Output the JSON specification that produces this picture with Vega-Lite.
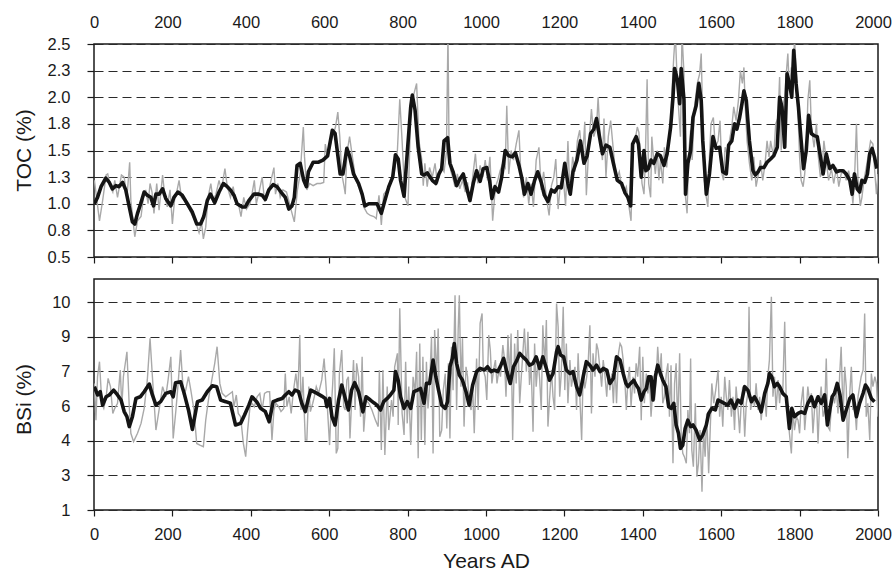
{
  "$schema": "https://vega.github.io/schema/vega-lite/v6.json",
  "background": "white",
  "padding": {"top": 13, "left": 12, "right": 0, "bottom": 0},
  "spacing": 11,
  "config": {
    "font": "Liberation Sans",
    "view": {"stroke": "#1a1a1a", "strokeWidth": 1.5},
    "axis": {
      "labelFont": "Liberation Sans", "labelFontSize": 16.5, "labelColor": "#1a1a1a",
      "titleFont": "Liberation Sans", "titleFontSize": 21, "titleFontWeight": "normal", "titleColor": "#1a1a1a",
      "tickColor": "#1a1a1a", "tickWidth": 1.2, "domain": false, "labelOverlap": false
    },
    "axisX": {"grid": false, "tickSize": 6, "labelFlush": false, "format": "d",
      "labelOffset": {"condition": {"test": "datum.value > 0", "value": -5}, "value": 0}},
    "axisY": {"grid": true, "gridColor": "#2a2a2a", "gridDash": [9, 5], "gridWidth": 1, "tickSize": 7, "labelPadding": 17,
      "titleAngle": 270, "titleBaseline": "middle", "titleAlign": "center", "titleX": -70}
  },
  "datasets": {
    "tocRaw": [
      {"year":1,"v":1.22},{"year":14,"v":0.84},{"year":22,"v":1.03},{"year":31,"v":1.27},{"year":35,"v":1.28},{"year":42,"v":1.16},{"year":48,"v":1.11},{"year":53,"v":1.22},{"year":60,"v":1.06},{"year":70,"v":1.27},{"year":77,"v":1.25},{"year":84,"v":1.06},{"year":91,"v":1.39},{"year":94,"v":1.03},{"year":104,"v":0.69},{"year":111,"v":0.84},{"year":120,"v":0.88},{"year":126,"v":1.06},{"year":132,"v":1.13},{"year":138,"v":1.0},{"year":143,"v":1.19},{"year":148,"v":1.11},{"year":153,"v":0.91},{"year":160,"v":1.19},{"year":166,"v":0.94},{"year":175,"v":1.27},{"year":181,"v":1.06},{"year":187,"v":0.97},{"year":194,"v":1.13},{"year":200,"v":0.81},{"year":206,"v":1.06},{"year":211,"v":1.11},{"year":217,"v":1.22},{"year":223,"v":1.06},{"year":231,"v":1.03},{"year":240,"v":0.97},{"year":248,"v":0.91},{"year":259,"v":0.83},{"year":268,"v":0.73},{"year":274,"v":0.83},{"year":279,"v":0.67},{"year":285,"v":0.78},{"year":291,"v":1.06},{"year":298,"v":1.19},{"year":304,"v":1.03},{"year":311,"v":1.09},{"year":319,"v":1.22},{"year":325,"v":1.13},{"year":334,"v":1.33},{"year":340,"v":1.16},{"year":348,"v":1.06},{"year":355,"v":1.16},{"year":361,"v":1.03},{"year":370,"v":0.97},{"year":375,"v":0.88},{"year":382,"v":1.06},{"year":389,"v":0.95},{"year":398,"v":1.0},{"year":403,"v":1.09},{"year":409,"v":1.22},{"year":414,"v":1.0},{"year":420,"v":1.09},{"year":429,"v":1.25},{"year":435,"v":1.03},{"year":442,"v":1.06},{"year":448,"v":1.16},{"year":459,"v":1.34},{"year":463,"v":1.09},{"year":469,"v":1.19},{"year":475,"v":1.06},{"year":482,"v":1.13},{"year":491,"v":1.11},{"year":497,"v":1.03},{"year":503,"v":0.94},{"year":511,"v":0.83},{"year":519,"v":1.13},{"year":526,"v":1.28},{"year":534,"v":1.72},{"year":537,"v":1.44},{"year":543,"v":1.13},{"year":550,"v":1.19},{"year":559,"v":1.17},{"year":569,"v":1.19},{"year":578,"v":1.19},{"year":586,"v":1.2},{"year":590,"v":1.56},{"year":596,"v":1.44},{"year":605,"v":1.59},{"year":616,"v":1.72},{"year":622,"v":1.86},{"year":627,"v":1.63},{"year":632,"v":1.28},{"year":638,"v":1.16},{"year":641,"v":1.09},{"year":645,"v":1.47},{"year":652,"v":1.63},{"year":658,"v":1.47},{"year":668,"v":1.22},{"year":675,"v":1.16},
      {"year":680,"v":1.14},{"year":688,"v":0.97},{"year":697,"v":0.91},{"year":705,"v":0.89},{"year":714,"v":0.88},{"year":720,"v":0.86},{"year":727,"v":1.08},{"year":733,"v":0.8},{"year":739,"v":1.09},{"year":748,"v":1.13},{"year":756,"v":1.22},{"year":765,"v":1.27},{"year":774,"v":1.5},{"year":780,"v":1.98},{"year":786,"v":1.59},{"year":793,"v":1.06},{"year":801,"v":0.98},{"year":808,"v":1.84},{"year":816,"v":2.03},{"year":823,"v":2.13},{"year":829,"v":1.59},{"year":836,"v":1.42},{"year":840,"v":1.17},{"year":844,"v":1.38},{"year":850,"v":1.16},{"year":856,"v":1.34},{"year":863,"v":1.25},{"year":870,"v":1.38},{"year":876,"v":1.19},{"year":882,"v":1.3},{"year":887,"v":1.34},{"year":893,"v":1.3},{"year":899,"v":1.48},{"year":903,"v":2.6},{"year":906,"v":1.44},{"year":910,"v":1.31},{"year":915,"v":1.25},{"year":921,"v":1.16},{"year":927,"v":1.28},{"year":933,"v":1.14},{"year":940,"v":1.22},{"year":947,"v":1.11},{"year":953,"v":1.2},{"year":959,"v":1.02},{"year":966,"v":1.25},{"year":973,"v":1.47},{"year":979,"v":1.19},{"year":985,"v":1.36},{"year":992,"v":1.25},{"year":998,"v":1.41},{"year":1004,"v":1.22},{"year":1010,"v":1.44},{"year":1017,"v":0.84},{"year":1024,"v":1.16},{"year":1030,"v":1.22},{"year":1036,"v":1.31},{"year":1043,"v":1.38},{"year":1049,"v":1.34},{"year":1053,"v":1.92},{"year":1058,"v":1.28},{"year":1064,"v":1.5},{"year":1070,"v":1.41},{"year":1077,"v":1.56},{"year":1084,"v":1.69},{"year":1090,"v":1.19},{"year":1096,"v":1.06},{"year":1103,"v":1.25},{"year":1109,"v":1.0},{"year":1115,"v":1.19},{"year":1121,"v":0.97},{"year":1128,"v":1.41},{"year":1135,"v":1.53},{"year":1141,"v":1.13},{"year":1147,"v":1.3},{"year":1154,"v":1.06},{"year":1161,"v":0.89},{"year":1167,"v":1.17},{"year":1173,"v":1.25},{"year":1178,"v":1.42},{"year":1184,"v":0.95},{"year":1190,"v":1.19},{"year":1197,"v":1.25},{"year":1203,"v":0.98},{"year":1209,"v":1.59},{"year":1214,"v":1.09},{"year":1221,"v":1.44},{"year":1227,"v":1.3},{"year":1233,"v":1.59},{"year":1239,"v":1.69},{"year":1246,"v":1.41},{"year":1252,"v":1.77},{"year":1256,"v":1.08},{"year":1263,"v":1.59},{"year":1269,"v":1.89},{"year":1275,"v":1.63},{"year":1282,"v":1.72},{"year":1286,"v":2.0},{"year":1291,"v":1.63},{"year":1297,"v":1.41},{"year":1301,"v":1.8},{"year":1306,"v":1.25},{"year":1312,"v":1.63},{"year":1318,"v":1.78},{"year":1325,"v":1.5},{"year":1332,"v":1.22},{"year":1340,"v":1.3},{"year":1346,"v":1.16},{"year":1352,"v":1.11},
      {"year":1358,"v":1.16},{"year":1363,"v":1.02},{"year":1370,"v":0.84},{"year":1375,"v":1.56},{"year":1380,"v":1.59},{"year":1386,"v":1.72},{"year":1390,"v":1.67},{"year":1394,"v":1.41},{"year":1398,"v":1.19},{"year":1403,"v":1.09},{"year":1406,"v":1.34},{"year":1411,"v":2.17},{"year":1415,"v":1.19},{"year":1420,"v":1.06},{"year":1423,"v":1.63},{"year":1427,"v":1.44},{"year":1432,"v":1.28},{"year":1437,"v":1.5},{"year":1441,"v":1.22},{"year":1445,"v":1.41},{"year":1451,"v":1.19},{"year":1455,"v":1.53},{"year":1461,"v":1.34},{"year":1466,"v":1.59},{"year":1471,"v":1.75},{"year":1475,"v":2.09},{"year":1479,"v":2.38},{"year":1483,"v":2.6},{"year":1488,"v":2.13},{"year":1491,"v":1.91},{"year":1496,"v":1.63},{"year":1500,"v":2.6},{"year":1505,"v":2.22},{"year":1509,"v":1.06},{"year":1513,"v":0.91},{"year":1517,"v":1.47},{"year":1522,"v":1.69},{"year":1526,"v":1.41},{"year":1532,"v":1.91},{"year":1539,"v":2.13},{"year":1545,"v":2.22},{"year":1549,"v":2.41},{"year":1553,"v":1.78},{"year":1557,"v":1.22},{"year":1562,"v":1.06},{"year":1566,"v":0.97},{"year":1570,"v":1.44},{"year":1574,"v":1.75},{"year":1580,"v":1.81},{"year":1585,"v":1.53},{"year":1592,"v":1.59},{"year":1597,"v":1.78},{"year":1602,"v":1.28},{"year":1606,"v":1.22},{"year":1610,"v":1.53},{"year":1615,"v":1.47},{"year":1621,"v":1.59},{"year":1627,"v":1.72},{"year":1632,"v":1.91},{"year":1638,"v":1.78},{"year":1644,"v":1.97},{"year":1649,"v":2.25},{"year":1654,"v":2.13},{"year":1658,"v":2.28},{"year":1661,"v":1.94},{"year":1666,"v":1.59},{"year":1672,"v":1.38},{"year":1678,"v":1.22},{"year":1683,"v":1.44},{"year":1689,"v":1.16},{"year":1695,"v":1.28},{"year":1700,"v":1.41},{"year":1706,"v":1.22},{"year":1712,"v":1.38},{"year":1717,"v":1.59},{"year":1722,"v":1.44},{"year":1726,"v":1.59},{"year":1729,"v":1.53},{"year":1734,"v":1.44},{"year":1739,"v":1.75},{"year":1745,"v":1.81},{"year":1749,"v":2.19},{"year":1753,"v":1.5},{"year":1757,"v":1.91},{"year":1762,"v":2.0},{"year":1766,"v":2.22},{"year":1770,"v":2.41},{"year":1774,"v":2.06},{"year":1779,"v":2.28},{"year":1783,"v":2.09},{"year":1787,"v":2.55},{"year":1792,"v":2.22},{"year":1796,"v":1.84},{"year":1800,"v":1.44},{"year":1804,"v":1.22},{"year":1809,"v":1.16},{"year":1813,"v":1.28},{"year":1817,"v":1.47},{"year":1821,"v":1.97},{"year":1826,"v":2.16},{"year":1830,"v":1.72},{"year":1837,"v":1.53},{"year":1843,"v":1.75},{"year":1847,"v":1.47},{"year":1853,"v":1.25},{"year":1857,"v":1.31},{"year":1862,"v":1.59},{"year":1868,"v":1.41},{"year":1874,"v":1.22},{"year":1881,"v":1.33},{"year":1887,"v":1.19},{"year":1894,"v":1.34},{"year":1900,"v":1.16},{"year":1906,"v":1.28},{"year":1913,"v":1.31},{"year":1919,"v":1.22},{"year":1925,"v":1.31},{"year":1932,"v":1.16},{"year":1936,"v":1.0},{"year":1940,"v":1.22},{"year":1945,"v":1.75},{"year":1949,"v":1.22},{"year":1955,"v":0.98},{"year":1959,"v":1.06},{"year":1964,"v":1.22},{"year":1970,"v":1.34},{"year":1976,"v":1.47},{"year":1981,"v":1.59},{"year":1987,"v":1.56},{"year":1991,"v":1.34},{"year":1996,"v":1.09},{"year":2000,"v":1.28}
    ],
    "tocSmooth": [
      {"year":1,"v":1.0},{"year":9,"v":1.06},{"year":18,"v":1.16},{"year":30,"v":1.24},{"year":39,"v":1.2},{"year":47,"v":1.14},{"year":56,"v":1.17},{"year":64,"v":1.16},{"year":73,"v":1.2},{"year":81,"v":1.13},{"year":90,"v":0.97},{"year":98,"v":0.83},{"year":104,"v":0.81},{"year":111,"v":0.91},{"year":119,"v":1.0},{"year":128,"v":1.11},{"year":136,"v":1.08},{"year":145,"v":1.06},{"year":152,"v":0.98},{"year":158,"v":1.09},{"year":166,"v":1.09},{"year":175,"v":1.14},{"year":183,"v":1.05},{"year":196,"v":0.98},{"year":204,"v":1.06},{"year":214,"v":1.11},{"year":225,"v":1.08},{"year":238,"v":1.0},{"year":251,"v":0.92},{"year":262,"v":0.81},{"year":272,"v":0.81},{"year":280,"v":0.88},{"year":289,"v":1.03},{"year":297,"v":1.09},{"year":308,"v":1.01},{"year":319,"v":1.11},{"year":330,"v":1.19},{"year":340,"v":1.16},{"year":348,"v":1.13},{"year":357,"v":1.08},{"year":365,"v":1.0},{"year":378,"v":0.97},{"year":386,"v":0.97},{"year":395,"v":1.03},{"year":408,"v":1.09},{"year":420,"v":1.09},{"year":429,"v":1.08},{"year":437,"v":1.04},{"year":446,"v":1.13},{"year":457,"v":1.18},{"year":467,"v":1.16},{"year":477,"v":1.11},{"year":488,"v":1.06},{"year":497,"v":0.95},{"year":505,"v":0.98},{"year":511,"v":1.06},{"year":518,"v":1.36},{"year":526,"v":1.38},{"year":535,"v":1.22},{"year":542,"v":1.16},{"year":547,"v":1.3},{"year":559,"v":1.39},{"year":573,"v":1.39},{"year":584,"v":1.41},{"year":596,"v":1.45},{"year":608,"v":1.69},{"year":615,"v":1.66},{"year":628,"v":1.28},{"year":635,"v":1.28},{"year":645,"v":1.52},{"year":652,"v":1.45},{"year":662,"v":1.28},{"year":675,"v":1.19},
      {"year":684,"v":1.09},{"year":691,"v":0.98},{"year":701,"v":1.0},{"year":714,"v":1.0},{"year":722,"v":1.0},{"year":733,"v":0.91},{"year":742,"v":1.03},{"year":752,"v":1.16},{"year":762,"v":1.25},{"year":769,"v":1.46},{"year":776,"v":1.42},{"year":782,"v":1.22},{"year":791,"v":1.07},{"year":799,"v":1.47},{"year":808,"v":1.91},{"year":812,"v":2.02},{"year":819,"v":1.88},{"year":827,"v":1.53},{"year":836,"v":1.28},{"year":842,"v":1.27},{"year":850,"v":1.29},{"year":863,"v":1.22},{"year":872,"v":1.19},{"year":880,"v":1.28},{"year":887,"v":1.33},{"year":893,"v":1.59},{"year":902,"v":1.62},{"year":908,"v":1.38},{"year":916,"v":1.3},{"year":925,"v":1.17},{"year":933,"v":1.23},{"year":942,"v":1.28},{"year":950,"v":1.16},{"year":959,"v":1.03},{"year":968,"v":1.2},{"year":976,"v":1.31},{"year":985,"v":1.21},{"year":993,"v":1.33},{"year":1002,"v":1.34},{"year":1009,"v":1.22},{"year":1015,"v":1.05},{"year":1023,"v":1.16},{"year":1032,"v":1.11},{"year":1040,"v":1.25},{"year":1049,"v":1.5},{"year":1058,"v":1.45},{"year":1067,"v":1.44},{"year":1075,"v":1.48},{"year":1084,"v":1.36},{"year":1092,"v":1.23},{"year":1098,"v":1.09},{"year":1107,"v":1.19},{"year":1115,"v":1.09},{"year":1124,"v":1.22},{"year":1132,"v":1.3},{"year":1141,"v":1.2},{"year":1149,"v":1.08},{"year":1158,"v":1.02},{"year":1167,"v":1.13},{"year":1175,"v":1.11},{"year":1184,"v":1.16},{"year":1192,"v":1.15},{"year":1201,"v":1.38},{"year":1209,"v":1.19},{"year":1215,"v":1.09},{"year":1222,"v":1.3},{"year":1232,"v":1.41},{"year":1241,"v":1.59},{"year":1250,"v":1.38},{"year":1258,"v":1.45},{"year":1267,"v":1.66},{"year":1275,"v":1.7},{"year":1282,"v":1.8},{"year":1289,"v":1.64},{"year":1297,"v":1.47},{"year":1306,"v":1.55},{"year":1316,"v":1.53},{"year":1325,"v":1.38},{"year":1335,"v":1.22},{"year":1346,"v":1.19},{"year":1355,"v":1.1},
      {"year":1362,"v":1.06},{"year":1369,"v":0.98},{"year":1374,"v":1.56},{"year":1383,"v":1.63},{"year":1389,"v":1.56},{"year":1396,"v":1.25},{"year":1403,"v":1.5},{"year":1408,"v":1.31},{"year":1414,"v":1.33},{"year":1421,"v":1.41},{"year":1428,"v":1.38},{"year":1437,"v":1.47},{"year":1445,"v":1.45},{"year":1454,"v":1.36},{"year":1462,"v":1.47},{"year":1471,"v":1.72},{"year":1477,"v":2.0},{"year":1481,"v":2.27},{"year":1488,"v":2.17},{"year":1494,"v":1.94},{"year":1498,"v":2.27},{"year":1505,"v":1.98},{"year":1509,"v":1.09},{"year":1515,"v":1.38},{"year":1522,"v":1.5},{"year":1528,"v":1.81},{"year":1536,"v":1.92},{"year":1543,"v":2.13},{"year":1549,"v":1.97},{"year":1553,"v":1.59},{"year":1562,"v":1.09},{"year":1570,"v":1.28},{"year":1579,"v":1.63},{"year":1587,"v":1.52},{"year":1596,"v":1.53},{"year":1604,"v":1.3},{"year":1613,"v":1.28},{"year":1619,"v":1.55},{"year":1627,"v":1.59},{"year":1634,"v":1.75},{"year":1640,"v":1.7},{"year":1647,"v":1.81},{"year":1653,"v":1.94},{"year":1658,"v":2.06},{"year":1664,"v":1.97},{"year":1672,"v":1.59},{"year":1681,"v":1.31},{"year":1687,"v":1.27},{"year":1694,"v":1.3},{"year":1700,"v":1.34},{"year":1709,"v":1.34},{"year":1717,"v":1.39},{"year":1726,"v":1.42},{"year":1734,"v":1.45},{"year":1743,"v":1.53},{"year":1749,"v":2.0},{"year":1755,"v":1.91},{"year":1762,"v":1.53},{"year":1768,"v":2.22},{"year":1774,"v":2.13},{"year":1780,"v":2.0},{"year":1785,"v":2.44},{"year":1791,"v":2.13},{"year":1797,"v":1.91},{"year":1804,"v":1.59},{"year":1810,"v":1.33},{"year":1817,"v":1.5},{"year":1823,"v":1.83},{"year":1830,"v":1.66},{"year":1837,"v":1.64},{"year":1845,"v":1.63},{"year":1854,"v":1.42},{"year":1860,"v":1.28},{"year":1868,"v":1.47},{"year":1877,"v":1.33},{"year":1885,"v":1.36},{"year":1894,"v":1.3},{"year":1902,"v":1.31},{"year":1911,"v":1.31},{"year":1919,"v":1.28},{"year":1928,"v":1.22},{"year":1934,"v":1.09},{"year":1940,"v":1.28},{"year":1947,"v":1.14},{"year":1953,"v":1.11},{"year":1959,"v":1.22},{"year":1966,"v":1.2},{"year":1973,"v":1.28},{"year":1979,"v":1.47},{"year":1985,"v":1.52},{"year":1991,"v":1.44},{"year":1997,"v":1.33}
    ],
    "bsiRaw": [
      {"year":1,"v":6.48},{"year":5,"v":4.89},{"year":9,"v":6.77},{"year":14,"v":7.42},{"year":20,"v":5.62},{"year":25,"v":5.4},{"year":31,"v":5.9},{"year":36,"v":6.7},{"year":42,"v":6.34},{"year":48,"v":5.18},{"year":53,"v":5.4},{"year":60,"v":5.62},{"year":67,"v":7.06},{"year":71,"v":5.47},{"year":75,"v":6.77},{"year":84,"v":7.85},{"year":90,"v":5.47},{"year":94,"v":4.32},{"year":101,"v":3.96},{"year":111,"v":4.32},{"year":120,"v":4.75},{"year":128,"v":5.4},{"year":136,"v":6.63},{"year":143,"v":8.43},{"year":149,"v":6.77},{"year":158,"v":4.46},{"year":166,"v":5.33},{"year":175,"v":6.34},{"year":183,"v":5.9},{"year":189,"v":6.63},{"year":196,"v":7.63},{"year":202,"v":4.1},{"year":209,"v":5.33},{"year":214,"v":6.34},{"year":221,"v":7.92},{"year":228,"v":6.05},{"year":234,"v":6.19},{"year":241,"v":6.77},{"year":247,"v":6.19},{"year":255,"v":5.33},{"year":262,"v":3.88},{"year":270,"v":3.81},{"year":279,"v":3.74},{"year":285,"v":4.89},{"year":293,"v":5.9},{"year":302,"v":6.77},{"year":308,"v":7.35},{"year":314,"v":8.07},{"year":321,"v":6.48},{"year":327,"v":6.05},{"year":336,"v":5.9},{"year":342,"v":5.98},{"year":353,"v":6.12},{"year":357,"v":5.47},{"year":363,"v":5.98},{"year":368,"v":5.18},{"year":374,"v":5.04},{"year":381,"v":3.88},{"year":387,"v":3.31},{"year":392,"v":4.46},{"year":398,"v":5.47},{"year":403,"v":5.62},{"year":409,"v":5.47},{"year":416,"v":5.9},{"year":423,"v":6.05},{"year":429,"v":5.33},{"year":435,"v":6.05},{"year":442,"v":6.12},{"year":448,"v":6.12},{"year":454,"v":4.03},{"year":459,"v":5.33},{"year":464,"v":5.62},{"year":471,"v":5.47},{"year":477,"v":5.26},{"year":484,"v":5.4},{"year":488,"v":6.91},{"year":492,"v":5.47},{"year":498,"v":5.9},{"year":503,"v":5.18},{"year":509,"v":6.19},{"year":515,"v":6.91},{"year":520,"v":6.05},{"year":525,"v":8.57},{"year":528,"v":5.33},{"year":533,"v":6.77},{"year":539,"v":4.03},{"year":543,"v":4.03},{"year":548,"v":6.34},{"year":552,"v":5.26},{"year":558,"v":5.62},{"year":562,"v":5.9},{"year":567,"v":6.34},{"year":573,"v":6.05},{"year":581,"v":6.63},{"year":587,"v":7.56},{"year":592,"v":6.34},{"year":596,"v":5.26},{"year":601,"v":3.81},{"year":604,"v":5.04},{"year":609,"v":6.48},{"year":613,"v":8.0},{"year":618,"v":3.45},{"year":622,"v":3.67},{"year":626,"v":6.91},{"year":632,"v":7.92},{"year":637,"v":5.47},{"year":641,"v":5.33},{"year":645,"v":6.63},{"year":649,"v":6.77},{"year":653,"v":4.1},{"year":658,"v":6.05},{"year":662,"v":7.49},{"year":666,"v":5.33},{"year":670,"v":7.35},{"year":675,"v":6.77},
      {"year":680,"v":5.04},{"year":684,"v":7.63},{"year":688,"v":4.39},{"year":694,"v":5.76},{"year":701,"v":5.62},{"year":709,"v":5.33},{"year":718,"v":4.89},{"year":725,"v":4.61},{"year":728,"v":7.06},{"year":733,"v":3.6},{"year":737,"v":7.06},{"year":742,"v":3.38},{"year":748,"v":6.34},{"year":752,"v":4.46},{"year":759,"v":5.76},{"year":763,"v":5.04},{"year":767,"v":7.2},{"year":774,"v":7.78},{"year":776,"v":4.68},{"year":780,"v":9.73},{"year":786,"v":5.18},{"year":791,"v":4.25},{"year":795,"v":7.42},{"year":799,"v":4.75},{"year":803,"v":6.34},{"year":808,"v":3.81},{"year":814,"v":6.77},{"year":819,"v":6.05},{"year":823,"v":7.85},{"year":827,"v":3.24},{"year":831,"v":8.21},{"year":835,"v":4.03},{"year":839,"v":7.63},{"year":844,"v":3.81},{"year":848,"v":7.42},{"year":852,"v":5.4},{"year":856,"v":6.34},{"year":861,"v":8.5},{"year":865,"v":3.45},{"year":869,"v":8.79},{"year":874,"v":6.77},{"year":878,"v":8.86},{"year":882,"v":4.17},{"year":887,"v":4.46},{"year":891,"v":6.19},{"year":896,"v":6.91},{"year":900,"v":4.53},{"year":904,"v":7.35},{"year":908,"v":4.1},{"year":912,"v":8.07},{"year":916,"v":6.19},{"year":921,"v":10.3},{"year":925,"v":5.33},{"year":929,"v":8.79},{"year":932,"v":10.3},{"year":936,"v":6.34},{"year":940,"v":8.43},{"year":944,"v":4.61},{"year":949,"v":7.2},{"year":953,"v":6.77},{"year":957,"v":5.62},{"year":962,"v":5.33},{"year":966,"v":6.34},{"year":970,"v":4.32},{"year":976,"v":7.56},{"year":980,"v":5.33},{"year":985,"v":9.08},{"year":990,"v":9.51},{"year":993,"v":7.06},{"year":998,"v":6.77},{"year":1002,"v":5.76},{"year":1007,"v":8.57},{"year":1011,"v":7.92},{"year":1015,"v":6.48},{"year":1020,"v":7.13},{"year":1024,"v":7.49},{"year":1028,"v":6.48},{"year":1033,"v":7.06},{"year":1037,"v":6.77},{"year":1043,"v":8.14},{"year":1047,"v":7.56},{"year":1051,"v":5.9},{"year":1056,"v":8.57},{"year":1060,"v":6.63},{"year":1064,"v":8.64},{"year":1068,"v":4.03},{"year":1073,"v":8.21},{"year":1077,"v":6.48},{"year":1081,"v":8.79},{"year":1086,"v":5.62},{"year":1090,"v":6.77},{"year":1094,"v":7.78},{"year":1098,"v":8.86},{"year":1103,"v":6.99},{"year":1107,"v":8.72},{"year":1111,"v":6.41},{"year":1115,"v":7.35},{"year":1120,"v":4.39},{"year":1124,"v":8.21},{"year":1128,"v":6.34},{"year":1133,"v":7.49},{"year":1137,"v":6.63},{"year":1141,"v":5.33},{"year":1145,"v":9.0},{"year":1150,"v":7.2},{"year":1154,"v":9.22},{"year":1158,"v":4.61},{"year":1162,"v":5.76},{"year":1167,"v":7.06},{"year":1171,"v":5.9},{"year":1175,"v":5.33},{"year":1180,"v":9.94},{"year":1184,"v":8.93},{"year":1188,"v":5.9},{"year":1192,"v":6.91},{"year":1197,"v":9.8},{"year":1201,"v":6.19},{"year":1205,"v":8.21},{"year":1209,"v":5.62},{"year":1214,"v":7.49},{"year":1218,"v":6.34},{"year":1222,"v":6.77},{"year":1227,"v":7.2},{"year":1231,"v":5.33},{"year":1235,"v":7.78},{"year":1239,"v":6.05},{"year":1244,"v":4.03},{"year":1248,"v":7.06},{"year":1252,"v":6.26},{"year":1257,"v":6.77},{"year":1261,"v":7.49},{"year":1265,"v":9.0},{"year":1269,"v":5.18},{"year":1273,"v":7.78},{"year":1278,"v":6.77},{"year":1282,"v":8.21},{"year":1286,"v":7.92},{"year":1291,"v":7.06},{"year":1295,"v":6.34},{"year":1299,"v":7.49},{"year":1303,"v":6.91},{"year":1308,"v":5.9},{"year":1312,"v":7.06},{"year":1316,"v":6.19},{"year":1321,"v":6.91},{"year":1325,"v":5.62},{"year":1329,"v":7.35},{"year":1333,"v":5.62},{"year":1338,"v":7.78},{"year":1342,"v":8.21},{"year":1346,"v":8.07},{"year":1350,"v":7.49},{"year":1355,"v":6.34},
      {"year":1358,"v":5.33},{"year":1362,"v":6.63},{"year":1366,"v":7.2},{"year":1370,"v":5.47},{"year":1375,"v":6.77},{"year":1379,"v":6.05},{"year":1383,"v":7.35},{"year":1387,"v":6.77},{"year":1392,"v":8.07},{"year":1396,"v":4.89},{"year":1400,"v":7.63},{"year":1404,"v":5.62},{"year":1409,"v":6.91},{"year":1413,"v":6.05},{"year":1417,"v":6.77},{"year":1421,"v":5.04},{"year":1426,"v":6.34},{"year":1430,"v":5.76},{"year":1434,"v":6.63},{"year":1438,"v":8.07},{"year":1443,"v":6.77},{"year":1447,"v":7.78},{"year":1451,"v":5.62},{"year":1455,"v":5.9},{"year":1460,"v":6.91},{"year":1464,"v":7.35},{"year":1468,"v":5.04},{"year":1472,"v":7.27},{"year":1477,"v":3.02},{"year":1481,"v":6.48},{"year":1485,"v":7.35},{"year":1489,"v":4.61},{"year":1494,"v":7.78},{"year":1498,"v":4.17},{"year":1502,"v":3.45},{"year":1506,"v":3.31},{"year":1511,"v":3.02},{"year":1515,"v":5.33},{"year":1519,"v":4.32},{"year":1522,"v":7.56},{"year":1525,"v":3.6},{"year":1529,"v":2.87},{"year":1534,"v":5.62},{"year":1538,"v":2.44},{"year":1542,"v":3.02},{"year":1546,"v":4.46},{"year":1551,"v":1.79},{"year":1555,"v":4.46},{"year":1559,"v":3.31},{"year":1563,"v":5.18},{"year":1568,"v":2.59},{"year":1572,"v":4.46},{"year":1576,"v":6.48},{"year":1581,"v":5.62},{"year":1586,"v":6.19},{"year":1592,"v":7.06},{"year":1596,"v":5.04},{"year":1600,"v":5.9},{"year":1604,"v":4.61},{"year":1609,"v":6.77},{"year":1613,"v":5.9},{"year":1617,"v":5.33},{"year":1621,"v":6.63},{"year":1626,"v":5.04},{"year":1630,"v":5.9},{"year":1634,"v":4.46},{"year":1638,"v":6.34},{"year":1643,"v":5.33},{"year":1647,"v":4.32},{"year":1651,"v":5.62},{"year":1655,"v":6.34},{"year":1660,"v":4.17},{"year":1664,"v":5.62},{"year":1668,"v":6.05},{"year":1671,"v":9.8},{"year":1675,"v":5.33},{"year":1681,"v":5.9},{"year":1685,"v":5.47},{"year":1689,"v":6.48},{"year":1694,"v":5.33},{"year":1698,"v":5.9},{"year":1702,"v":4.89},{"year":1706,"v":5.62},{"year":1711,"v":5.9},{"year":1715,"v":5.04},{"year":1719,"v":6.77},{"year":1723,"v":7.49},{"year":1728,"v":10.23},{"year":1732,"v":5.9},{"year":1736,"v":6.77},{"year":1740,"v":5.33},{"year":1745,"v":6.63},{"year":1749,"v":5.62},{"year":1753,"v":6.34},{"year":1757,"v":6.05},{"year":1762,"v":9.15},{"year":1766,"v":5.62},{"year":1770,"v":5.18},{"year":1774,"v":4.32},{"year":1779,"v":3.45},{"year":1783,"v":5.33},{"year":1787,"v":4.46},{"year":1792,"v":5.04},{"year":1796,"v":4.89},{"year":1800,"v":4.32},{"year":1804,"v":5.62},{"year":1809,"v":6.34},{"year":1813,"v":4.46},{"year":1817,"v":5.33},{"year":1821,"v":6.34},{"year":1826,"v":5.62},{"year":1830,"v":6.05},{"year":1834,"v":4.32},{"year":1838,"v":5.33},{"year":1843,"v":5.9},{"year":1847,"v":3.88},{"year":1851,"v":5.62},{"year":1855,"v":6.34},{"year":1860,"v":5.04},{"year":1864,"v":5.33},{"year":1868,"v":7.56},{"year":1872,"v":4.61},{"year":1877,"v":4.46},{"year":1881,"v":5.47},{"year":1885,"v":6.05},{"year":1889,"v":5.62},{"year":1894,"v":6.19},{"year":1898,"v":5.18},{"year":1902,"v":6.77},{"year":1906,"v":8.07},{"year":1911,"v":5.04},{"year":1915,"v":7.2},{"year":1919,"v":6.34},{"year":1923,"v":3.24},{"year":1928,"v":6.05},{"year":1932,"v":7.2},{"year":1936,"v":5.33},{"year":1940,"v":5.62},{"year":1945,"v":4.46},{"year":1949,"v":5.9},{"year":1953,"v":6.34},{"year":1957,"v":6.77},{"year":1962,"v":7.06},{"year":1966,"v":9.51},{"year":1970,"v":5.04},{"year":1974,"v":5.62},{"year":1979,"v":4.03},{"year":1983,"v":6.91},{"year":1987,"v":6.34},{"year":1992,"v":6.77},{"year":1996,"v":6.48},{"year":2000,"v":5.04}
    ],
    "bsiSmooth": [
      {"year":1,"v":6.34},{"year":9,"v":5.98},{"year":16,"v":6.12},{"year":22,"v":5.54},{"year":31,"v":5.9},{"year":39,"v":5.98},{"year":50,"v":6.19},{"year":60,"v":5.98},{"year":69,"v":5.76},{"year":77,"v":5.26},{"year":84,"v":5.04},{"year":90,"v":4.61},{"year":98,"v":5.04},{"year":107,"v":5.83},{"year":118,"v":5.9},{"year":128,"v":6.12},{"year":141,"v":6.45},{"year":149,"v":5.98},{"year":158,"v":5.54},{"year":170,"v":5.69},{"year":183,"v":6.05},{"year":196,"v":6.12},{"year":202,"v":5.9},{"year":208,"v":6.51},{"year":221,"v":6.55},{"year":230,"v":6.05},{"year":241,"v":5.33},{"year":251,"v":4.49},{"year":264,"v":5.69},{"year":276,"v":5.76},{"year":289,"v":6.12},{"year":302,"v":6.38},{"year":313,"v":6.34},{"year":323,"v":5.76},{"year":336,"v":5.69},{"year":348,"v":5.62},{"year":361,"v":4.68},{"year":374,"v":4.75},{"year":384,"v":5.11},{"year":395,"v":5.54},{"year":403,"v":5.9},{"year":415,"v":5.69},{"year":425,"v":5.4},{"year":437,"v":5.26},{"year":447,"v":4.82},{"year":457,"v":5.69},{"year":467,"v":5.76},{"year":480,"v":5.83},{"year":488,"v":5.98},{"year":497,"v":6.12},{"year":505,"v":5.98},{"year":513,"v":6.19},{"year":522,"v":6.12},{"year":530,"v":5.62},{"year":539,"v":5.26},{"year":547,"v":5.83},{"year":553,"v":6.19},{"year":569,"v":6.05},{"year":581,"v":5.93},{"year":590,"v":5.83},{"year":594,"v":5.47},{"year":601,"v":5.83},{"year":607,"v":5.04},{"year":615,"v":4.68},{"year":624,"v":5.76},{"year":632,"v":6.41},{"year":641,"v":5.83},{"year":649,"v":5.33},{"year":657,"v":6.19},{"year":665,"v":6.51},{"year":675,"v":6.12},
      {"year":686,"v":5.25},{"year":694,"v":5.9},{"year":705,"v":5.76},{"year":714,"v":5.64},{"year":722,"v":5.54},{"year":731,"v":5.33},{"year":739,"v":5.69},{"year":748,"v":5.83},{"year":756,"v":5.98},{"year":765,"v":6.19},{"year":769,"v":6.99},{"year":776,"v":6.62},{"year":782,"v":5.9},{"year":791,"v":5.4},{"year":799,"v":5.69},{"year":808,"v":5.4},{"year":816,"v":6.12},{"year":825,"v":6.19},{"year":833,"v":6.26},{"year":842,"v":5.62},{"year":848,"v":6.48},{"year":856,"v":6.48},{"year":865,"v":7.49},{"year":872,"v":6.77},{"year":879,"v":6.19},{"year":887,"v":5.54},{"year":896,"v":5.4},{"year":902,"v":5.69},{"year":908,"v":7.2},{"year":914,"v":7.56},{"year":919,"v":8.21},{"year":925,"v":7.35},{"year":932,"v":6.84},{"year":940,"v":6.62},{"year":949,"v":6.12},{"year":957,"v":5.54},{"year":966,"v":6.41},{"year":976,"v":6.99},{"year":985,"v":7.13},{"year":996,"v":7.06},{"year":1004,"v":7.2},{"year":1013,"v":6.99},{"year":1021,"v":7.06},{"year":1030,"v":6.99},{"year":1038,"v":7.27},{"year":1045,"v":7.56},{"year":1053,"v":6.99},{"year":1062,"v":6.48},{"year":1070,"v":7.2},{"year":1079,"v":7.49},{"year":1086,"v":7.78},{"year":1094,"v":7.63},{"year":1103,"v":7.49},{"year":1111,"v":7.27},{"year":1120,"v":7.35},{"year":1128,"v":7.63},{"year":1137,"v":7.13},{"year":1145,"v":7.63},{"year":1154,"v":7.13},{"year":1162,"v":6.62},{"year":1171,"v":6.91},{"year":1180,"v":7.85},{"year":1184,"v":8.07},{"year":1190,"v":7.71},{"year":1198,"v":7.63},{"year":1205,"v":7.06},{"year":1214,"v":6.91},{"year":1222,"v":6.99},{"year":1231,"v":6.34},{"year":1239,"v":5.98},{"year":1248,"v":6.77},{"year":1256,"v":7.42},{"year":1265,"v":7.27},{"year":1273,"v":7.06},{"year":1282,"v":7.27},{"year":1291,"v":6.99},{"year":1299,"v":7.13},{"year":1308,"v":7.06},{"year":1316,"v":6.48},{"year":1325,"v":6.7},{"year":1333,"v":7.63},{"year":1342,"v":7.49},{"year":1350,"v":6.91},{"year":1357,"v":6.48},
      {"year":1362,"v":6.34},{"year":1369,"v":6.48},{"year":1377,"v":6.62},{"year":1383,"v":6.41},{"year":1389,"v":6.26},{"year":1396,"v":5.76},{"year":1403,"v":6.12},{"year":1409,"v":6.26},{"year":1415,"v":6.77},{"year":1421,"v":6.77},{"year":1426,"v":5.76},{"year":1432,"v":6.77},{"year":1438,"v":7.27},{"year":1445,"v":6.91},{"year":1451,"v":6.62},{"year":1459,"v":6.34},{"year":1466,"v":5.47},{"year":1472,"v":5.4},{"year":1479,"v":5.62},{"year":1485,"v":4.68},{"year":1491,"v":4.32},{"year":1496,"v":3.67},{"year":1502,"v":3.81},{"year":1508,"v":4.53},{"year":1515,"v":4.89},{"year":1522,"v":4.61},{"year":1528,"v":4.68},{"year":1536,"v":4.46},{"year":1545,"v":4.03},{"year":1553,"v":4.25},{"year":1562,"v":4.68},{"year":1568,"v":5.18},{"year":1576,"v":5.4},{"year":1585,"v":5.33},{"year":1592,"v":5.76},{"year":1600,"v":5.69},{"year":1608,"v":5.62},{"year":1617,"v":5.54},{"year":1625,"v":5.76},{"year":1634,"v":5.4},{"year":1643,"v":5.76},{"year":1651,"v":5.62},{"year":1660,"v":6.34},{"year":1668,"v":6.19},{"year":1677,"v":5.69},{"year":1685,"v":5.9},{"year":1694,"v":5.62},{"year":1702,"v":5.25},{"year":1711,"v":6.05},{"year":1719,"v":6.48},{"year":1723,"v":6.91},{"year":1729,"v":6.77},{"year":1736,"v":6.34},{"year":1743,"v":6.48},{"year":1749,"v":6.34},{"year":1757,"v":6.05},{"year":1766,"v":5.9},{"year":1774,"v":4.53},{"year":1780,"v":5.4},{"year":1787,"v":5.04},{"year":1796,"v":5.18},{"year":1804,"v":5.25},{"year":1813,"v":5.18},{"year":1821,"v":5.62},{"year":1830,"v":5.9},{"year":1838,"v":5.47},{"year":1847,"v":5.9},{"year":1855,"v":5.62},{"year":1864,"v":5.98},{"year":1871,"v":4.68},{"year":1877,"v":5.33},{"year":1883,"v":5.9},{"year":1889,"v":6.05},{"year":1896,"v":6.48},{"year":1903,"v":5.98},{"year":1911,"v":4.89},{"year":1919,"v":5.33},{"year":1928,"v":5.83},{"year":1936,"v":5.98},{"year":1945,"v":5.04},{"year":1953,"v":5.62},{"year":1962,"v":6.05},{"year":1968,"v":6.41},{"year":1974,"v":6.26},{"year":1983,"v":5.83},{"year":1991,"v":5.69}
    ]
  },
  "vconcat": [
    {
      "width": 784,
      "height": 213,
      "layer": [
        {
          "data": {"name": "tocRaw"},
          "mark": {"type": "line", "color": "#a9a9a9", "strokeWidth": 1.4, "clip": true},
          "encoding": {
            "x": {"field": "year", "type": "quantitative", "scale": {"domain": [0, 2000], "nice": false},
              "axis": {"orient": "bottom", "labels": false, "ticks": true, "title": null, "values": [0,200,400,600,800,1000,1200,1400,1600,1800,2000]}},
            "y": {"field": "v", "type": "quantitative", "scale": {"domain": [0.5, 2.5], "nice": false, "zero": false},
              "axis": {"values": [0.5,0.75,1.0,1.25,1.5,1.75,2.0,2.25,2.5], "format": ".1f", "title": "TOC (%)", "titleY": 106}}
          }
        },
        {
          "data": {"name": "tocSmooth"},
          "mark": {"type": "line", "color": "#141414", "strokeWidth": 3.6, "strokeJoin": "round", "clip": true},
          "encoding": {
            "x": {"field": "year", "type": "quantitative", "scale": {"domain": [0, 2000], "nice": false},
              "axis": {"orient": "top", "labels": true, "ticks": false, "labelPadding": 14, "title": null, "values": [0,200,400,600,800,1000,1200,1400,1600,1800,2000]}},
            "y": {"field": "v", "type": "quantitative", "scale": {"domain": [0.5, 2.5], "nice": false, "zero": false},
              "axis": {"values": [0.5,0.75,1.0,1.25,1.5,1.75,2.0,2.25,2.5], "format": ".1f", "title": "TOC (%)", "titleY": 106}}
          }
        }
      ],
      "resolve": {"axis": {"x": "independent"}}
    },
    {
      "width": 784,
      "height": 231,
      "layer": [
        {
          "data": {"name": "bsiRaw"},
          "mark": {"type": "line", "color": "#a9a9a9", "strokeWidth": 1.4, "clip": true},
          "encoding": {
            "x": {"field": "year", "type": "quantitative", "scale": {"domain": [0, 2000], "nice": false},
              "axis": {"orient": "bottom", "values": [0,200,400,600,800,1000,1200,1400,1600,1800,2000], "labelPadding": 10, "title": "Years AD", "titlePadding": 8}},
            "y": {"field": "v", "type": "quantitative", "scale": {"domain": [1, 11], "nice": false, "zero": false},
              "axis": {"values": [1,2.5,4,5.5,7,8.5,10], "format": ".0f", "title": "BSi (%)", "titleY": 120}}
          }
        },
        {
          "data": {"name": "bsiSmooth"},
          "mark": {"type": "line", "color": "#141414", "strokeWidth": 3.6, "strokeJoin": "round", "clip": true},
          "encoding": {
            "x": {"field": "year", "type": "quantitative", "scale": {"domain": [0, 2000], "nice": false},
              "axis": {"orient": "bottom", "values": [0,200,400,600,800,1000,1200,1400,1600,1800,2000], "labelPadding": 10, "title": "Years AD", "titlePadding": 8}},
            "y": {"field": "v", "type": "quantitative", "scale": {"domain": [1, 11], "nice": false, "zero": false},
              "axis": {"values": [1,2.5,4,5.5,7,8.5,10], "format": ".0f", "title": "BSi (%)", "titleY": 120}}
          }
        }
      ]
    }
  ]
}
